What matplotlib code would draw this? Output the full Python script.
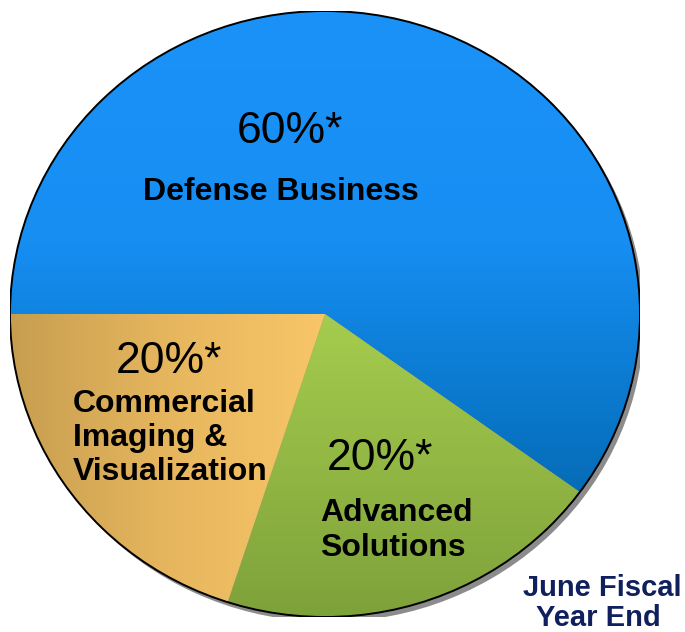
import numpy as np
import matplotlib
matplotlib.use("Agg")
import matplotlib.pyplot as plt
from matplotlib.patches import Ellipse
from matplotlib.colors import LinearSegmentedColormap

# segment shares, clockwise from 9 o'clock
segments = ["Defense Business", "Advanced Solutions", "Commercial Imaging & Visualization"]
shares = [60, 20, 20]
share_labels = ["60%*", "20%*", "20%*"]

W, H = 685, 632
plt.rcParams["font.family"] = ["Liberation Sans", "DejaVu Sans"]

fig = plt.figure(figsize=(W / 100, H / 100), dpi=100)
fig.patch.set_facecolor("white")

# pie bounding box in pixels (left, top, right, bottom)
pl, pt, pr, pb = 10, 11, 640, 617
ax = fig.add_axes([pl / W, 1 - pb / H, (pr - pl) / W, (pb - pt) / H])


def px(x, y):
    return x / W, 1 - y / H


# drop shadow behind the disc
ax.add_patch(Ellipse((0.013, -0.016), 2, 2, facecolor="#8c8c8c", edgecolor="none", zorder=0))

wedges, _ = ax.pie(shares, startangle=180, counterclock=False, radius=1,
                   wedgeprops=dict(linewidth=0, edgecolor="none"))

grads = [
    # (colour stops, direction)
    ([(0.0, "#005a98"), (0.35, "#0a78cc"), (0.62, "#168ef2"), (1.0, "#1a92f8")], "y"),
    ([(0.0, "#7ea23a"), (0.5, "#a6cc4e"), (1.0, "#cbf463")], "y"),
    ([(0.0, "#c79e50"), (0.5, "#e6b65e"), (1.0, "#f8c668")], "x"),
]

n = 400
lin = np.linspace(0, 1, n)
for w, (stops, d) in zip(wedges, grads):
    cmap = LinearSegmentedColormap.from_list("g", stops)
    if d == "y":
        img = np.tile(lin[:, None], (1, n))
    else:
        img = np.tile(np.clip(lin * 2, 0, 1)[None, :], (n, 1))
    w.set_facecolor("none")
    im = ax.imshow(img, cmap=cmap, origin="lower", extent=[-1, 1, -1, 1],
                   interpolation="bilinear", zorder=1, aspect="auto")
    im.set_clip_path(w)

# outer rim
ax.add_patch(Ellipse((0, 0), 2, 2, facecolor="none", edgecolor="black", linewidth=1.4, zorder=3))

ax.set_xlim(-1, 1)
ax.set_ylim(-1, 1)
ax.set_aspect("auto")
ax.axis("off")

# slice labels
big = dict(fontsize=32, color="black", va="baseline")
bold = dict(fontsize=23, fontweight="bold", color="black", va="baseline")

fig.text(*px(290, 143), share_labels[0], ha="center", **big)
fig.text(*px(281, 200), segments[0], ha="center", **bold)

fig.text(*px(380, 470), share_labels[1], ha="center", **big)
fig.text(*px(320, 521), "Advanced", ha="left", **bold)
fig.text(*px(320, 556), "Solutions", ha="left", **bold)

fig.text(*px(169, 373), share_labels[2], ha="center", **big)
fig.text(*px(73, 412), "Commercial", ha="left", **bold)
fig.text(*px(73, 446), "Imaging &", ha="left", **bold)
fig.text(*px(73, 480), "Visualization", ha="left", **bold)

note = dict(fontsize=21, fontweight="bold", color="#10205e", va="baseline", ha="center")
fig.text(*px(602, 596), "June Fiscal", **note)
fig.text(*px(598, 626), "Year End", **note)

fig.savefig("out.png", dpi=100, facecolor="white")
